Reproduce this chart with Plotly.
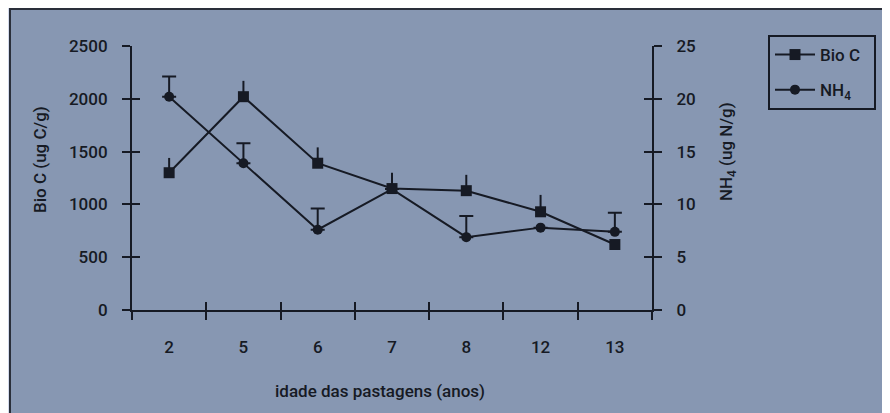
import plotly.graph_objects as go

# ---- data ----
idade = ["2", "5", "6", "7", "8", "12", "13"]
bio_c = [1300, 2020, 1390, 1150, 1130, 930, 620]
bio_c_err = [140, 150, 150, 150, 150, 160, 0]
nh4 = [20.2, 13.9, 7.6, 11.45, 6.9, 7.8, 7.4]
nh4_err = [1.9, 1.9, 2.0, 0, 2.0, 0, 1.8]
left_ticks = [0, 500, 1000, 1500, 2000, 2500]
right_ticks = [0, 5, 10, 15, 20, 25]

INK = "#161a24"
FONT = "Roboto, Liberation Sans, sans-serif"
OUTER = "#d4dbed"
INNER = "#8797b2"

OFF = 8  # page body margin
# plot area in reference pixels
L, R, T, B = 132, 652, 46, 310
W, H = 890 - OFF, 413 - OFF


def px_x(p):
    return (p - L) / (R - L)


def px_y(p):
    return (B - p) / (B - T)


fig = go.Figure()

fig.add_trace(go.Scatter(
    x=idade, y=bio_c, name="Bio C\u00a0\u00a0", mode="lines+markers",
    line=dict(color=INK, width=2),
    marker=dict(symbol="square", size=11, color=INK),
    error_y=dict(type="data", symmetric=False, array=bio_c_err,
                 arrayminus=[0] * len(bio_c_err), color=INK, thickness=2, width=0),
    xaxis="x", yaxis="y", legendgroup="a",
))
fig.add_trace(go.Scatter(
    x=idade, y=nh4, name="NH<sub>4</sub>", mode="lines+markers",
    line=dict(color=INK, width=2),
    marker=dict(symbol="circle", size=10, color=INK),
    error_y=dict(type="data", symmetric=False, array=nh4_err,
                 arrayminus=[0] * len(nh4_err), color=INK, thickness=2, width=7),
    xaxis="x", yaxis="y2", legendgroup="b",
))
# dummy traces so the overlay (inside-tick) axes render
fig.add_trace(go.Scatter(x=[idade[0]], y=[None], xaxis="x2", yaxis="y3",
                         showlegend=False, hoverinfo="skip", mode="markers"))
fig.add_trace(go.Scatter(x=[idade[0]], y=[None], xaxis="x2", yaxis="y4",
                         showlegend=False, hoverinfo="skip", mode="markers"))

tickfont = dict(family=FONT, size=17, color=INK, weight=500)
textfont = dict(family=FONT, size=17, color=INK, weight=500)
common_x = dict(type="category", categoryorder="array", categoryarray=idade,
                range=[-0.5, 6.5], tickson="boundaries", ticklen=8, tickwidth=2,
                tickcolor=INK, showgrid=False, zeroline=False, fixedrange=True)

fig.update_layout(
    width=W, height=H,
    margin=dict(l=L - OFF, r=W - (R - OFF), t=T - OFF, b=H - (B - OFF)),
    paper_bgcolor=OUTER,
    plot_bgcolor="rgba(0,0,0,0)",
    showlegend=True,
    legend=dict(x=px_x(768), y=px_y(35), xanchor="left", yanchor="top",
                bgcolor="rgba(0,0,0,0)", bordercolor=INK, borderwidth=2,
                font=textfont, tracegroupgap=10, itemwidth=40),
    xaxis=dict(**common_x, ticks="outside", showline=True, linecolor=INK,
               linewidth=2, tickfont=tickfont, ticklabelstandoff=21,
               anchor="y", domain=[0, 1]),
    xaxis2=dict(**common_x, ticks="inside", showline=False,
                showticklabels=False, overlaying="x", anchor="y3"),
    yaxis=dict(range=[0, 2500], tickvals=left_ticks, ticks="outside", ticklen=8,
               tickwidth=2, tickcolor=INK, showline=True, linecolor=INK,
               linewidth=2, showgrid=False, zeroline=False, tickfont=tickfont,
               ticklabelstandoff=11, side="left", anchor="x", fixedrange=True),
    yaxis2=dict(range=[0, 25], tickvals=right_ticks, ticks="outside", ticklen=8,
                tickwidth=2, tickcolor=INK, showline=True, linecolor=INK,
                linewidth=2, showgrid=False, zeroline=False, tickfont=tickfont,
                ticklabelstandoff=11, side="right", overlaying="y", anchor="x",
                fixedrange=True),
    yaxis3=dict(range=[0, 2500], tickvals=left_ticks, ticks="inside", ticklen=8,
                tickwidth=2, tickcolor=INK, showline=False, showgrid=False,
                zeroline=False, showticklabels=False, side="left",
                overlaying="y", anchor="x2", fixedrange=True),
    yaxis4=dict(range=[0, 25], tickvals=right_ticks, ticks="inside", ticklen=8,
                tickwidth=2, tickcolor=INK, showline=False, showgrid=False,
                zeroline=False, showticklabels=False, side="right",
                overlaying="y", anchor="x2", fixedrange=True),
    shapes=[dict(type="rect", xref="paper", yref="paper", layer="below",
                 x0=px_x(10), x1=px_x(905), y0=px_y(430), y1=px_y(9),
                 fillcolor=INNER, line=dict(color="#2a2f3a", width=2))],
    annotations=[
        dict(text="Bio C (ug C/g)", xref="paper", yref="paper",
             x=px_x(40), y=px_y(160), textangle=-90, showarrow=False,
             xanchor="center", yanchor="middle", font=textfont),
        dict(text="NH<sub>4</sub> (ug N/g)", xref="paper", yref="paper",
             x=px_x(727), y=px_y(152), textangle=-90, showarrow=False,
             xanchor="center", yanchor="middle", font=textfont),
        dict(text="idade das pastagens (anos)", xref="paper", yref="paper",
             x=px_x(380), y=px_y(391), showarrow=False,
             xanchor="center", yanchor="middle", font=textfont),
    ],
)

fig.write_html("out.html")
